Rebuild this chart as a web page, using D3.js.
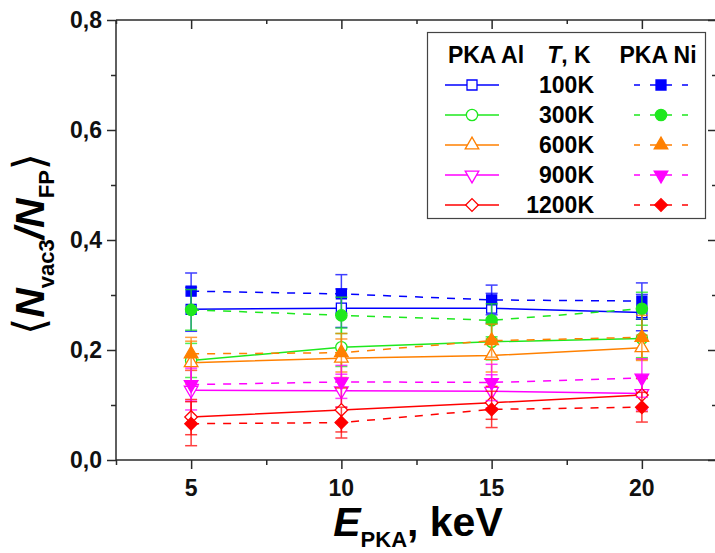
<!DOCTYPE html>
<html>
<head>
<meta charset="utf-8">
<script src="https://cdn.jsdelivr.net/npm/d3@7"></script>
<style>
  html, body { margin: 0; padding: 0; background: #fff; }
  svg { display: block; font-family: 'Liberation Sans', Arial, sans-serif; }
</style>
</head>
<body>
<svg id="chart" width="715" height="553"></svg>
<script>
// ── Data ────────────────────────────────────────────────────────
const energies = [5, 10, 15, 20];
const temps    = ['100K', '300K', '600K', '900K', '1200K'];

// PKA Al (open markers, solid lines), one row per temperature
const alMean = [
  [0.274, 0.276, 0.276, 0.268],
  [0.181, 0.205, 0.215, 0.221],
  [0.177, 0.185, 0.190, 0.204],
  [0.127, 0.126, 0.125, 0.121],
  [0.078, 0.091, 0.104, 0.118]
];
const alErr = [
  [0.040, 0.035, 0.027, 0.033],
  [0.031, 0.035, 0.033, 0.035],
  [0.039, 0.035, 0.030, 0.023],
  [0.036, 0.030, 0.030, 0.030],
  [0.032, 0.040, 0.030, 0.030]
];

// PKA Ni (filled markers, dashed lines)
const niMean = [
  [0.307, 0.302, 0.291, 0.289],
  [0.273, 0.263, 0.254, 0.275],
  [0.193, 0.195, 0.217, 0.223],
  [0.137, 0.142, 0.141, 0.149],
  [0.066, 0.068, 0.092, 0.096]
];
const niErr = [
  [0.033, 0.035, 0.027, 0.033],
  [0.037, 0.033, 0.030, 0.030],
  [0.030, 0.035, 0.030, 0.040],
  [0.030, 0.030, 0.033, 0.035],
  [0.040, 0.028, 0.033, 0.027]
];

const yTicks = [0, 0.2, 0.4, 0.6, 0.8];
const xTicks = [5, 10, 15, 20];

// ── Styles ──────────────────────────────────────────────────────
const COLORS  = ['#0000ff', '#1ee81e', '#ff8000', '#ff00ff', '#ff0000'];
const SYMBOLS = ['square', 'circle', 'up', 'down', 'diamond'];

const PLOT = { left: 116, right: 717, top: 20, bottom: 460 };
const AXIS_COLOR = '#2a2a2a';
const TICK_FONT = 23;

const svg = d3.select('#chart');

const x = d3.scaleLinear().domain([2.5, 22.5]).range([PLOT.left, PLOT.right]);
const y = d3.scaleLinear().domain([0, 0.8]).range([PLOT.bottom, PLOT.top]);

// marker path generator
function markerPath(kind) {
  switch (kind) {
    case 'square':  return d3.symbol(d3.symbolSquare, 100)();
    case 'circle':  return d3.symbol(d3.symbolCircle, 100)();
    case 'up':      return d3.symbol(d3.symbolTriangle, 80)();
    case 'down':    return d3.symbol(d3.symbolTriangle, 80)();
    case 'diamond': return d3.symbol(d3.symbolSquare, 80)();
  }
}
function markerRot(kind) {
  if (kind === 'down') return 180;
  if (kind === 'diamond') return 45;
  return 0;
}
function drawMarker(g, cx, cy, kind, color, filled) {
  g.append('path')
    .attr('d', markerPath(kind))
    .attr('transform', `translate(${cx},${cy}) rotate(${markerRot(kind)})`)
    .attr('fill', filled ? color : '#fff')
    .attr('stroke', color)
    .attr('stroke-width', 1.3);
}

// ── Axes ────────────────────────────────────────────────────────
const axes = svg.append('g');

const yAxis = axes.append('g')
  .attr('transform', `translate(${PLOT.left},0)`)
  .call(d3.axisLeft(y).tickValues(d3.range(0, 0.81, 0.1)).tickSize(5).tickFormat(''));
yAxis.selectAll('.tick line')
  .attr('x2', (d, i) => i % 2 === 0 ? -9 : -5);
yAxis.selectAll('path, line').attr('stroke', AXIS_COLOR).attr('stroke-width', 1.5);
yAxis.select('.domain').attr('d', `M0,${PLOT.top}V${PLOT.bottom}`);

axes.append('g').selectAll('text')
  .data(yTicks).join('text')
  .attr('x', 102)
  .attr('y', d => y(d))
  .attr('dy', '0.36em')
  .attr('text-anchor', 'end')
  .attr('font-size', TICK_FONT)
  .attr('font-weight', 'bold')
  .attr('fill', '#111')
  .text(d => d3.format('.1f')(d).replace('.', ','));

const xAxis = axes.append('g')
  .attr('transform', `translate(0,${PLOT.bottom})`)
  .call(d3.axisBottom(x).tickValues(d3.range(2.5, 22.6, 2.5)).tickSize(5).tickFormat(''));
xAxis.selectAll('.tick line')
  .attr('y2', d => xTicks.includes(d) ? 9 : 5);
xAxis.selectAll('path, line').attr('stroke', AXIS_COLOR).attr('stroke-width', 1.5);
xAxis.select('.domain').attr('d', `M${PLOT.left},0H${PLOT.right}`);

axes.append('g').selectAll('text')
  .data(xTicks).join('text')
  .attr('x', d => x(d))
  .attr('y', 496)
  .attr('text-anchor', 'middle')
  .attr('font-size', TICK_FONT)
  .attr('font-weight', 'bold')
  .attr('fill', '#111')
  .text(d => d);

// top & right frame with inward ticks
const topAxis = axes.append('g')
  .attr('transform', `translate(0,${PLOT.top})`)
  .call(d3.axisTop(x).tickValues(d3.range(2.5, 22.6, 2.5)).tickSize(5).tickFormat(''));
topAxis.selectAll('.tick line')
  .attr('y2', d => xTicks.includes(d) ? 9 : 4);
topAxis.selectAll('path, line').attr('stroke', AXIS_COLOR).attr('stroke-width', 1.5);
topAxis.select('.domain').attr('d', `M${PLOT.left},0H${PLOT.right}`);

const rightAxis = axes.append('g')
  .attr('transform', `translate(${PLOT.right},0)`)
  .call(d3.axisRight(y).tickValues(d3.range(0, 0.81, 0.1)).tickSize(5).tickFormat(''));
rightAxis.selectAll('.tick line')
  .attr('x2', (d, i) => i % 2 === 0 ? -9 : -5);
rightAxis.selectAll('path, line').attr('stroke', AXIS_COLOR).attr('stroke-width', 1.5);

// ── Axis titles ─────────────────────────────────────────────────
const xt = svg.append('text')
  .attr('x', 418).attr('y', 536)
  .attr('text-anchor', 'middle')
  .attr('font-weight', 'bold')
  .attr('font-size', 41)
  .attr('fill', '#000');
xt.append('tspan').attr('font-style', 'italic').text('E');
xt.append('tspan').attr('font-size', 22).attr('dy', 11).text('PKA');
xt.append('tspan').attr('dy', -11).text(', keV');

const yt = svg.append('text')
  .attr('transform', 'translate(44,244) rotate(-90)')
  .attr('text-anchor', 'middle')
  .attr('font-weight', 'bold')
  .attr('font-size', 41)
  .attr('fill', '#000');
yt.append('tspan').attr('font-family', 'DejaVu Sans').attr('font-weight', 'normal').attr('font-size', 44).text('⟨');
yt.append('tspan').attr('font-style', 'italic').text('N');
yt.append('tspan').attr('font-size', 22).attr('dy', 10).text('vac3');
yt.append('tspan').attr('dy', -10).attr('font-style', 'italic').text('/N');
yt.append('tspan').attr('font-size', 22).attr('dy', 10).text('FP');
yt.append('tspan').attr('dy', -10).attr('font-family', 'DejaVu Sans').attr('font-weight', 'normal').attr('font-size', 44).text('⟩');

// ── Series ──────────────────────────────────────────────────────
const plot = svg.append('g');
const line = d3.line().x((d, i) => x(energies[i])).y(d => y(d));

function drawSeries(means, errs, filled) {
  means.forEach((vals, k) => {
    const color = COLORS[k];
    const g = plot.append('g');

    // error bars
    vals.forEach((v, i) => {
      const cx = x(energies[i]);
      const e = errs[k][i];
      const eb = g.append('g')
        .attr('stroke', color)
        .attr('stroke-width', 1.5)
        .attr('opacity', 0.75);
      eb.append('line').attr('x1', cx).attr('x2', cx).attr('y1', y(v - e)).attr('y2', y(v + e));
      [v - e, v + e].forEach(t => {
        eb.append('line').attr('x1', cx - 6).attr('x2', cx + 6).attr('y1', y(t)).attr('y2', y(t));
      });
    });

    g.append('path')
      .attr('d', line(vals))
      .attr('fill', 'none')
      .attr('stroke', color)
      .attr('stroke-width', 1.5)
      .attr('stroke-dasharray', filled ? '8,8' : null);

    vals.forEach((v, i) => drawMarker(g, x(energies[i]), y(v), SYMBOLS[k], color, filled));
  });
}
drawSeries(alMean, alErr, false);
drawSeries(niMean, niErr, true);

// ── Legend ──────────────────────────────────────────────────────
const lg = svg.append('g');
lg.append('rect')
  .attr('x', 427.5).attr('y', 32.5)
  .attr('width', 278).attr('height', 186)
  .attr('fill', '#fff')
  .attr('stroke', '#444')
  .attr('stroke-width', 1.2);

const hdr = lg.append('g')
  .attr('font-size', TICK_FONT).attr('font-weight', 'bold').attr('fill', '#000')
  .attr('text-anchor', 'middle');
hdr.append('text').attr('x', 486).attr('y', 63).text('PKA Al');
const tk = hdr.append('text').attr('x', 569).attr('y', 63);
tk.append('tspan').attr('font-style', 'italic').text('T');
tk.append('tspan').text(', K');
hdr.append('text').attr('x', 658).attr('y', 63).text('PKA Ni');

temps.forEach((t, k) => {
  const cy = 85 + k * 30;
  const color = COLORS[k];
  lg.append('line')
    .attr('x1', 445).attr('x2', 499).attr('y1', cy).attr('y2', cy)
    .attr('stroke', color).attr('stroke-width', 1.5);
  drawMarker(lg, 472, cy, SYMBOLS[k], color, false);

  lg.append('text')
    .attr('x', 594).attr('y', cy + 8)
    .attr('text-anchor', 'end')
    .attr('font-size', TICK_FONT).attr('font-weight', 'bold')
    .text(t);

  lg.append('line')
    .attr('x1', 634).attr('x2', 688).attr('y1', cy).attr('y2', cy)
    .attr('stroke', color).attr('stroke-width', 1.5)
    .attr('stroke-dasharray', '6,10');
  drawMarker(lg, 661, cy, SYMBOLS[k], color, true);
});
</script>
</body>
</html>
